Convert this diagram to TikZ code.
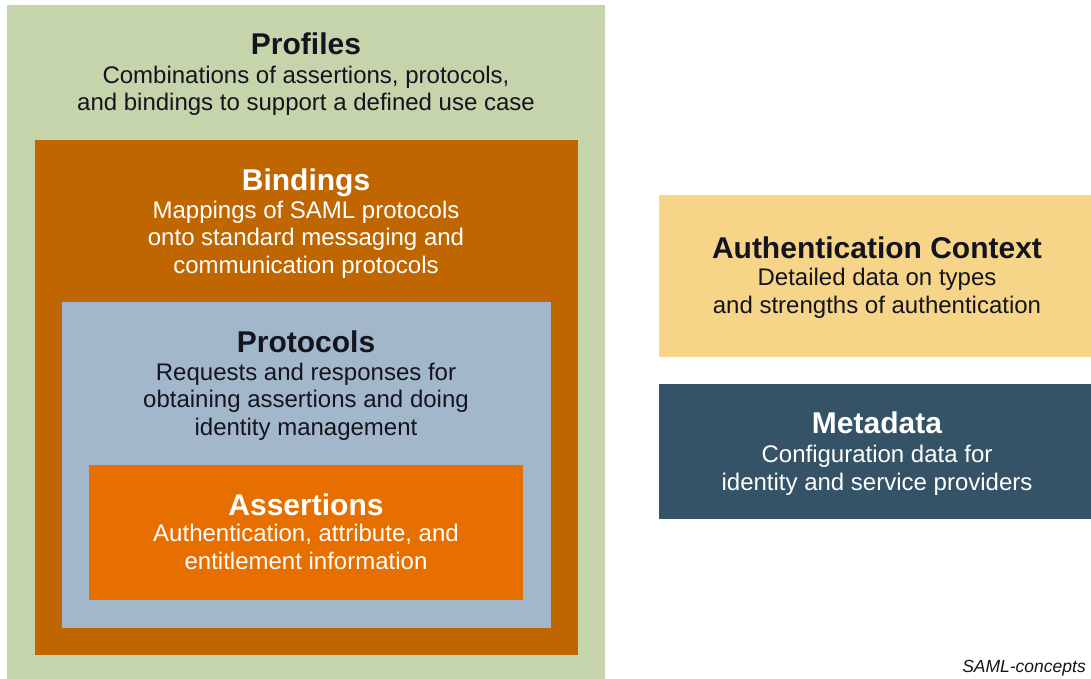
\documentclass[tikz,border=0pt]{standalone}
\usepackage{fontspec}
\setmainfont{Liberation Sans}
\definecolor{profgreen}{RGB}{197,212,170}
\definecolor{bindbrown}{RGB}{191,102,0}
\definecolor{protblue}{RGB}{163,183,203}
\definecolor{assorange}{RGB}{230,111,0}
\definecolor{authyellow}{RGB}{246,213,136}
\definecolor{metablue}{RGB}{53,83,103}
\definecolor{darktext}{RGB}{20,20,30}
\begin{document}
\begin{tikzpicture}[x=1pt,y=-1pt,
  box/.style={draw=none, inner sep=0pt, outer sep=0pt, anchor=north west},
  ttl/.style={inner sep=0pt, anchor=base, font=\fontsize{30}{34}\selectfont\bfseries},
  bdy/.style={inner sep=0pt, anchor=base, align=center, font=\fontsize{24}{27.5}\selectfont},
  capt/.style={inner sep=0pt, anchor=base, font=\fontsize{17.5}{20}\selectfont\itshape}]
\useasboundingbox (0,0) rectangle (1091,679);
\fill[white] (0,0) rectangle (1091,679);
% boxes
\node[box, fill=profgreen, minimum width=598pt, minimum height=674pt] (profiles) at (7,5) {};
\node[box, fill=bindbrown, minimum width=543pt, minimum height=515pt] (bindings) at (35,140) {};
\node[box, fill=protblue, minimum width=489pt, minimum height=326pt] (protocols) at (62,302) {};
\node[box, fill=assorange, minimum width=434pt, minimum height=135pt] (assertions) at (89,465) {};
\node[box, fill=authyellow, minimum width=432pt, minimum height=162pt] (authctx) at (659,195) {};
\node[box, fill=metablue, minimum width=432pt, minimum height=135pt] (metadata) at (659,384) {};
% texts (body nodes are placed at the baseline of their last line)
\node[ttl, text=darktext] (profilesT) at (306,55) {Profiles};
\node[bdy, text=darktext] (profilesB) at (306,111) {Combinations of assertions, protocols,\\and bindings to support a defined use case};
\node[ttl, text=white] (bindingsT) at (306,190) {Bindings};
\node[bdy, text=white] (bindingsB) at (306,273) {Mappings of SAML protocols\\onto standard messaging and\\communication protocols};
\node[ttl, text=darktext] (protocolsT) at (306,352) {Protocols};
\node[bdy, text=darktext] (protocolsB) at (306,435) {Requests and responses for\\obtaining assertions and doing\\identity management};
\node[ttl, text=white] (assertionsT) at (306,515) {Assertions};
\node[bdy, text=white] (assertionsB) at (306,569) {Authentication, attribute, and\\entitlement information};
\node[ttl, text=darktext] (authctxT) at (877,258) {Authentication Context};
\node[bdy, text=darktext] (authctxB) at (877,313) {Detailed data on types\\and strengths of authentication};
\node[ttl, text=white] (metadataT) at (877,433) {Metadata};
\node[bdy, text=white] (metadataB) at (877,490) {Configuration data for\\identity and service providers};
\node[capt, text=darktext] (caption) at (1024,672) {SAML-concepts};
\end{tikzpicture}
\end{document}
